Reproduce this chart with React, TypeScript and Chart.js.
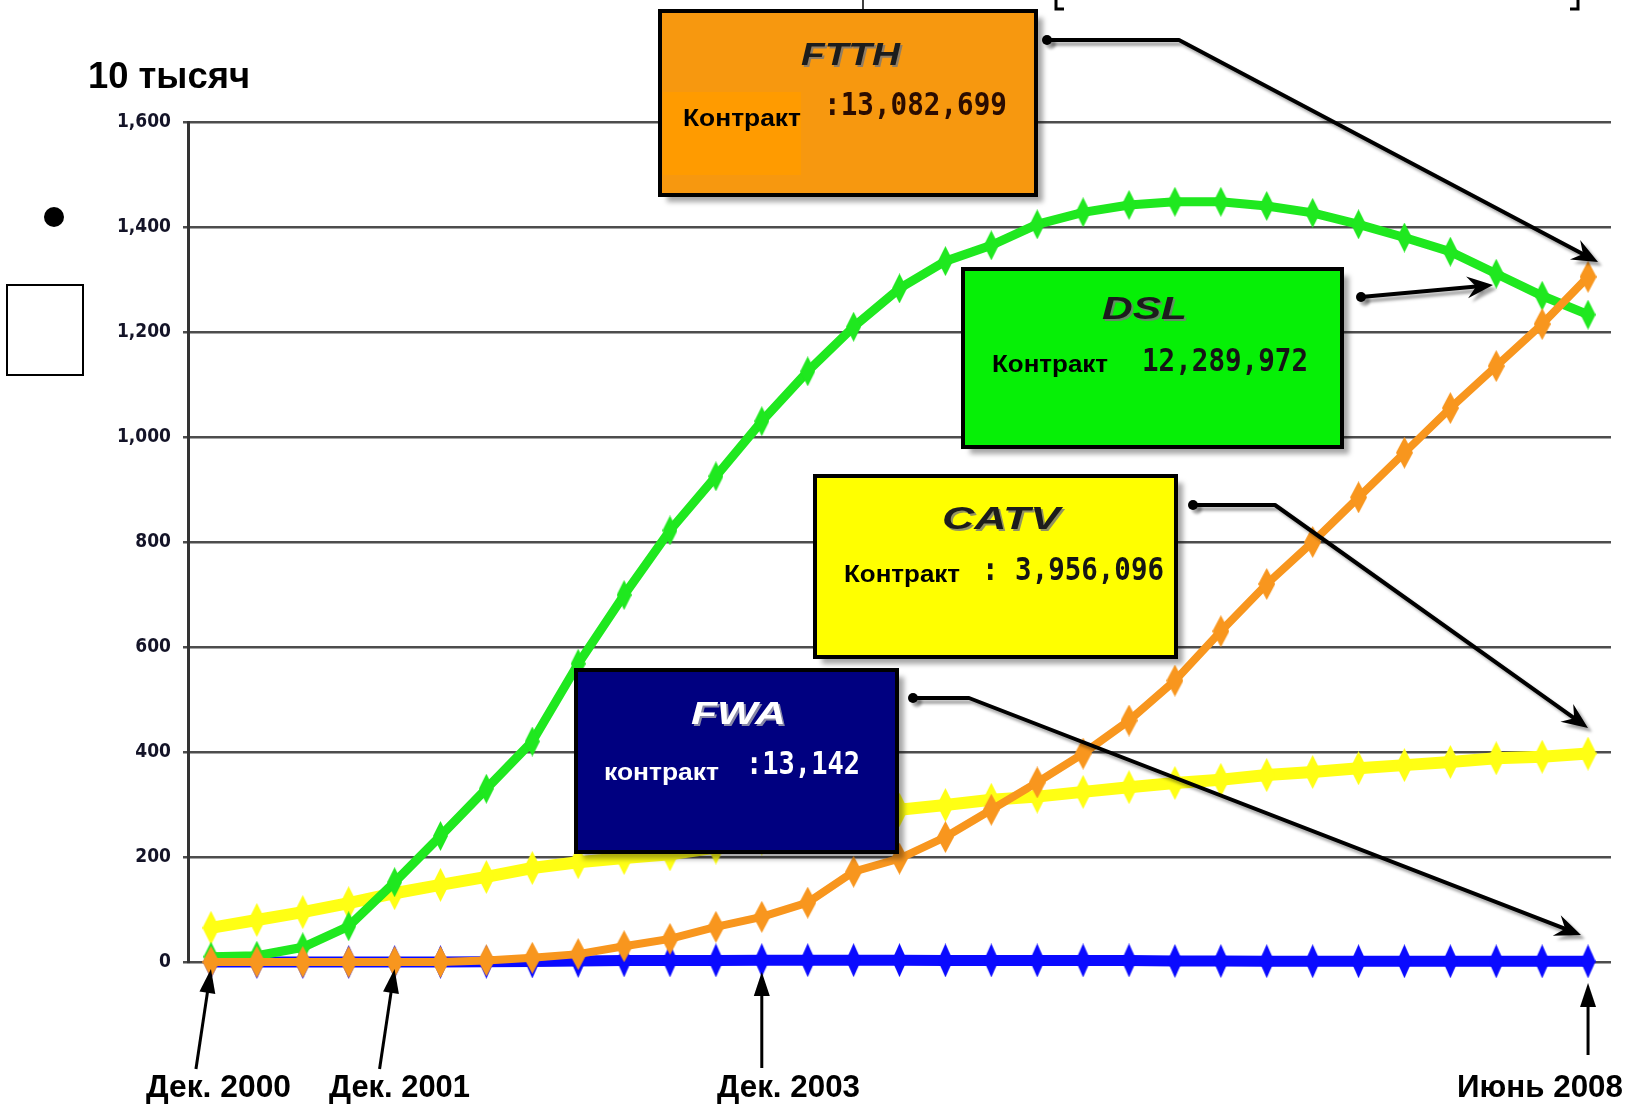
import React, { useEffect, useRef } from "react";
import { Chart, registerables } from "chart.js";

Chart.register(...registerables);

// ---------- data (units: 10 thousand contracts) ----------
const quarters = [
  "2000-12", "2001-03", "2001-06", "2001-09", "2001-12", "2002-03", "2002-06", "2002-09",
  "2002-12", "2003-03", "2003-06", "2003-09", "2003-12", "2004-03", "2004-06", "2004-09",
  "2004-12", "2005-03", "2005-06", "2005-09", "2005-12", "2006-03", "2006-06", "2006-09",
  "2006-12", "2007-03", "2007-06", "2007-09", "2007-12", "2008-03", "2008-06",
];
const ftthValues = [0, 0, 0, 0, 0, 0, 3, 8, 15, 30, 44, 67, 86, 113, 172, 197, 238, 290, 342, 397, 460, 536, 630, 720, 800, 885, 970, 1055, 1135, 1215, 1305];
const dslValues = [10, 12, 28, 68, 152, 240, 330, 420, 568, 699, 822, 925, 1030, 1125, 1210, 1283, 1335, 1365, 1405, 1428, 1442, 1448, 1448, 1440, 1427, 1405, 1380, 1353, 1311, 1269, 1233];
const catvValues = [65, 80, 95, 112, 131, 147, 162, 179, 190, 198, 205, 218, 235, 252, 270, 290, 299, 309, 315, 324, 333, 341, 347, 356, 362, 369, 375, 381, 388, 391, 397];
const fwaValues = [0, 0, 0, 0, 0, 0, 0.5, 1, 2, 3, 3, 3, 3.5, 3.5, 3.5, 3.5, 3, 3, 3, 3, 3, 2, 1.8, 1.6, 1.5, 1.5, 1.4, 1.4, 1.3, 1.3, 1.3];

const yMin = 0;
const yMax = 1600;
const yStep = 200;

const unitLabel = "10 тысяч";
const seriesNames = ["FTTH", "DSL", "CATV", "FWA"];
const contractWords = ["Контракт", "Контракт", "Контракт", "контракт"];
const contractNumbers = [":13,082,699", "12,289,972", ": 3,956,096", ":13,142"];
const markedDates = ["Дек. 2000", "Дек. 2001", "Дек. 2003", "Июнь 2008"];
const markedIndex = [0, 4, 12, 30];

// ---------- helpers ----------
function makeDiamond(color: string, w: number, h: number) {
  const c = document.createElement("canvas");
  c.width = w;
  c.height = h;
  const g = c.getContext("2d")!;
  g.fillStyle = color;
  g.beginPath();
  g.moveTo(w / 2, 0);
  g.lineTo(w, h / 2);
  g.lineTo(w / 2, h);
  g.lineTo(0, h / 2);
  g.closePath();
  g.fill();
  return c;
}

function fitText(ctx: CanvasRenderingContext2D, text: string, x0: number, x1: number, cy: number, font: string, color: string) {
  ctx.save();
  ctx.font = font;
  ctx.textBaseline = "middle";
  ctx.textAlign = "left";
  const w = ctx.measureText(text).width;
  const sx = (x1 - x0) / w;
  ctx.translate(x0, cy);
  ctx.scale(sx, 1);
  ctx.fillStyle = color;
  ctx.fillText(text, 0, 0);
  ctx.restore();
}

function arrowHead(ctx: CanvasRenderingContext2D, fx: number, fy: number, tx: number, ty: number, L: number, W: number, notch: number) {
  const dx = tx - fx, dy = ty - fy;
  const len = Math.hypot(dx, dy);
  const ux = dx / len, uy = dy / len;
  const nx = -uy, ny = ux;
  ctx.beginPath();
  ctx.moveTo(tx, ty);
  ctx.lineTo(tx - ux * L + nx * W, ty - uy * L + ny * W);
  ctx.lineTo(tx - ux * (L - notch), ty - uy * (L - notch));
  ctx.lineTo(tx - ux * L - nx * W, ty - uy * L - ny * W);
  ctx.closePath();
  ctx.fill();
}

function callout(ctx: CanvasRenderingContext2D, pts: number[][]) {
  ctx.save();
  ctx.shadowColor = "rgba(0,0,0,0.35)";
  ctx.shadowOffsetX = 4;
  ctx.shadowOffsetY = 4;
  ctx.shadowBlur = 3;
  ctx.strokeStyle = "#000";
  ctx.fillStyle = "#000";
  ctx.lineWidth = 4;
  ctx.lineJoin = "round";
  const n = pts.length;
  const [fx, fy] = pts[n - 2];
  const [tx, ty] = pts[n - 1];
  const dx = tx - fx, dy = ty - fy;
  const len = Math.hypot(dx, dy);
  const endX = tx - (dx / len) * 14, endY = ty - (dy / len) * 14;
  ctx.beginPath();
  ctx.moveTo(pts[0][0], pts[0][1]);
  for (let i = 1; i < n - 1; i++) ctx.lineTo(pts[i][0], pts[i][1]);
  ctx.lineTo(endX, endY);
  ctx.stroke();
  arrowHead(ctx, fx, fy, tx, ty, 26, 11, 9);
  ctx.beginPath();
  ctx.arc(pts[0][0], pts[0][1], 5, 0, Math.PI * 2);
  ctx.fill();
  ctx.restore();
}

type Box = { x0: number; y0: number; x1: number; y1: number; fill: string; dark: boolean;
  title: [number, number, number]; word: [number, number, number]; num: [number, number, number] };

const boxes: Box[] = [
  { x0: 660, y0: 11, x1: 1036, y1: 195, fill: "#f7980f", dark: true, title: [801, 900, 56], word: [683, 801, 119], num: [824, 1007, 107] },
  { x0: 963, y0: 269, x1: 1342, y1: 447, fill: "#06f006", dark: true, title: [1102, 1187, 310], word: [992, 1108, 365], num: [1142, 1308, 363] },
  { x0: 815, y0: 476, x1: 1176, y1: 657, fill: "#ffff00", dark: true, title: [942, 1060, 520], word: [844, 960, 575], num: [982, 1164, 572] },
  { x0: 576, y0: 670, x1: 897, y1: 852, fill: "#000080", dark: false, title: [691, 786, 715], word: [604, 719, 773], num: [746, 860, 766] },
];

const callouts = [
  [[1047, 40], [1179, 40], [1598, 262]],
  [[1361, 297], [1493, 285]],
  [[1193, 505], [1275, 505], [1588, 728]],
  [[913, 698], [969, 698], [1581, 935]],
];

const dateLabelPos = [
  { x0: 146, x1: 291, tailDx: -15, tailY: 1069, tipY: 969 },
  { x0: 329, x1: 470, tailDx: -15, tailY: 1069, tipY: 969 },
  { x0: 717, x1: 860, tailDx: 0, tailY: 1068, tipY: 972 },
  { x0: 1457, x1: 1623, tailDx: 0, tailY: 1055, tipY: 983 },
];

const annotationPlugin = {
  id: "annotations",
  afterDraw(chart: any) {
    const ctx: CanvasRenderingContext2D = chart.ctx;
    const xs = chart.scales.x;

    // unit label
    fitText(ctx, unitLabel, 88, 250, 78, "bold 36px 'Liberation Sans', Arial, sans-serif", "#000");

    // stray marks at left
    ctx.save();
    ctx.fillStyle = "#000";
    ctx.beginPath();
    ctx.arc(54, 217, 10, 0, Math.PI * 2);
    ctx.fill();
    ctx.fillStyle = "#fff";
    ctx.strokeStyle = "#000";
    ctx.lineWidth = 2;
    ctx.fillRect(7, 285, 76, 90);
    ctx.strokeRect(7, 285, 76, 90);
    // little marks at top edge
    ctx.lineWidth = 3;
    ctx.beginPath();
    ctx.moveTo(1056, 0); ctx.lineTo(1056, 9); ctx.lineTo(1064, 9);
    ctx.moveTo(1578, 0); ctx.lineTo(1578, 9); ctx.lineTo(1570, 9);
    ctx.stroke();
    ctx.lineWidth = 1.5;
    ctx.beginPath();
    ctx.moveTo(863, 0); ctx.lineTo(863, 11);
    ctx.stroke();
    ctx.restore();

    // boxes
    boxes.forEach((b, i) => {
      ctx.save();
      ctx.shadowColor = "rgba(0,0,0,0.35)";
      ctx.shadowOffsetX = 7;
      ctx.shadowOffsetY = 7;
      ctx.shadowBlur = 5;
      ctx.fillStyle = b.fill;
      ctx.fillRect(b.x0, b.y0, b.x1 - b.x0, b.y1 - b.y0);
      ctx.restore();
      if (i === 0) {
        ctx.fillStyle = "#ff9b00";
        ctx.fillRect(663, 92, 138, 83);
      }
      ctx.save();
      ctx.strokeStyle = "#000";
      ctx.lineWidth = 4;
      ctx.strokeRect(b.x0, b.y0, b.x1 - b.x0, b.y1 - b.y0);
      ctx.restore();

      const titleFont = "italic bold 32px 'Liberation Sans', Arial, sans-serif";
      const [tx0, tx1, ty] = b.title;
      if (b.dark) {
        fitText(ctx, seriesNames[i], tx0 + 2, tx1 + 2, ty + 2, titleFont, "rgba(120,120,120,0.8)");
        fitText(ctx, seriesNames[i], tx0, tx1, ty, titleFont, "#1c1c1c");
      } else {
        fitText(ctx, seriesNames[i], tx0 + 2, tx1 + 2, ty + 2, titleFont, "rgba(150,150,170,0.9)");
        fitText(ctx, seriesNames[i], tx0, tx1, ty, titleFont, "#ffffff");
      }
      const txtColor = b.dark ? "#000" : "#fff";
      fitText(ctx, contractWords[i], b.word[0], b.word[1], b.word[2], "bold 24px 'Liberation Sans', Arial, sans-serif", txtColor);
      fitText(ctx, contractNumbers[i], b.num[0], b.num[1], b.num[2], "bold 32px 'DejaVu Sans Mono', 'Liberation Mono', monospace", b.dark ? (i === 0 ? "#2b0c00" : "#151515") : "#fff");
    });

    // callout arrows
    callouts.forEach((pts) => callout(ctx, pts));

    // date markers at bottom
    dateLabelPos.forEach((d, i) => {
      const tipX = xs.getPixelForValue(markedIndex[i]);
      const tailX = tipX + d.tailDx;
      ctx.save();
      ctx.strokeStyle = "#000";
      ctx.fillStyle = "#000";
      ctx.lineWidth = 3;
      const dx = tipX - tailX, dy = d.tipY - d.tailY;
      const len = Math.hypot(dx, dy);
      ctx.beginPath();
      ctx.moveTo(tailX, d.tailY);
      ctx.lineTo(tipX - (dx / len) * 18, d.tipY - (dy / len) * 18);
      ctx.stroke();
      arrowHead(ctx, tailX, d.tailY, tipX, d.tipY, 24, 8, 0);
      ctx.restore();
      fitText(ctx, markedDates[i], d.x0, d.x1, 1088, "bold 32px 'Liberation Sans', Arial, sans-serif", "#000");
    });
  },
};

export default function App() {
  const ref = useRef<HTMLCanvasElement | null>(null);

  useEffect(() => {
    if (!ref.current) return;
    const orange = "#f8961e";
    const green = "#1fe81f";
    const yellow = "#ffff14";
    const blue = "#0a0aff";
    const chart = new Chart(ref.current, {
      type: "line",
      data: {
        labels: quarters,
        datasets: [
          { label: "FTTH", data: ftthValues, borderColor: orange, backgroundColor: orange, borderWidth: 8,
            pointStyle: makeDiamond(orange, 17, 32) as any, pointRadius: 10, tension: 0, clip: false },
          { label: "DSL", data: dslValues, borderColor: green, backgroundColor: green, borderWidth: 9,
            pointStyle: makeDiamond(green, 15, 30) as any, pointRadius: 10, tension: 0, clip: false },
          { label: "CATV", data: catvValues, borderColor: yellow, backgroundColor: yellow, borderWidth: 12,
            pointStyle: makeDiamond(yellow, 17, 34) as any, pointRadius: 10, tension: 0, clip: false },
          { label: "FWA", data: fwaValues, borderColor: blue, backgroundColor: blue, borderWidth: 11,
            pointStyle: makeDiamond(blue, 15, 34) as any, pointRadius: 10, tension: 0, clip: false },
        ] as any,
      },
      options: {
        responsive: false,
        animation: false,
        layout: { padding: { top: 122, bottom: 143, left: 0, right: 0 } },
        plugins: { legend: { display: false }, tooltip: { enabled: false } },
        scales: {
          x: {
            type: "category",
            offset: true,
            grid: { display: false },
            border: { display: false },
            ticks: { display: false },
            afterFit: (s: any) => { s.height = 0; },
          },
          y: {
            min: yMin,
            max: yMax,
            ticks: {
              stepSize: yStep,
              padding: 12,
              color: "#141428",
              font: { family: "'Liberation Sans Narrow', 'DejaVu Sans Condensed', 'Liberation Sans', sans-serif", size: 19, weight: "bold" },
              callback: (v: any) => Number(v).toLocaleString("en-US"),
            },
            grid: { color: "#4d4d4d", lineWidth: 2.5, tickLength: 5, drawTicks: true },
            border: { display: true, color: "#333", width: 3 },
            afterFit: (s: any) => { s.width = 188; },
          },
        },
      },
      plugins: [annotationPlugin],
    });
    return () => chart.destroy();
  }, []);

  return (
    <div style={{ position: "absolute", left: 0, top: 0, width: 1633, height: 1105, background: "#fff" }}>
      <canvas ref={ref} width={1633} height={1105} style={{ display: "block" }} />
    </div>
  );
}
